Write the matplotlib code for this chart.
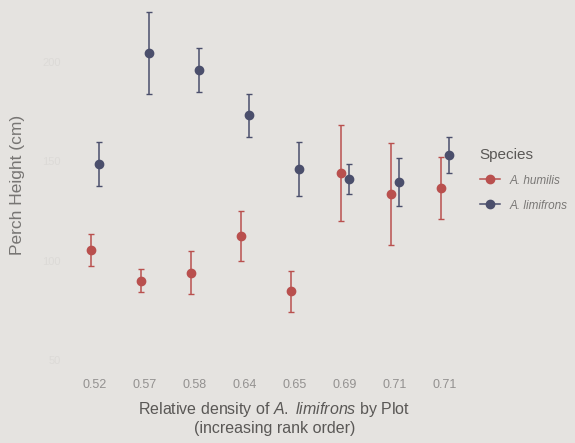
import matplotlib.pyplot as plt
from matplotlib.lines import Line2D
import numpy as np

plt.rcParams['font.family'] = ['Liberation Sans', 'DejaVu Sans']
plt.rcParams['mathtext.fontset'] = 'custom'
plt.rcParams['mathtext.it'] = 'Liberation Sans:italic'
plt.rcParams['mathtext.rm'] = 'Liberation Sans'

# data
plots = ['0.52', '0.57', '0.58', '0.64', '0.65', '0.69', '0.71', '0.71']
humilis_mean = [105.5, 90, 94, 112.5, 84.5, 144, 133.5, 136.5]
humilis_err = [8, 6, 11, 12.5, 10.5, 24, 25.5, 15.5]
limifrons_mean = [148.5, 204.5, 196, 173, 146, 141, 139.5, 153]
limifrons_err = [11, 20.5, 11, 11, 13.5, 7.5, 12, 9]
y_ticks = [50, 100, 150, 200]

bg = '#e5e3e0'
red = '#b9504e'
blue = '#4b4f6c'

fig = plt.figure(figsize=(5.75, 4.43), dpi=100, facecolor=bg)
ax = fig.add_axes([65/575, 1 - 375/443, 410/575, 373/443])
ax.set_facecolor(bg)

x = np.arange(len(plots))
dodge = 0.08
ax.errorbar(x - dodge, humilis_mean, yerr=humilis_err, fmt='o', color=red,
            ms=6, elinewidth=1.1, capsize=2.2, capthick=1)
ax.errorbar(x + dodge, limifrons_mean, yerr=limifrons_err, fmt='o', color=blue,
            ms=6, elinewidth=1.1, capsize=2.2, capthick=1)

ax.set_xlim(-0.6, len(plots) - 0.4)
ax.set_ylim(42.5, 230)
ax.set_xticks(x)
ax.set_xticklabels(plots, fontsize=9, color='#939190')
ax.set_yticks(y_ticks)
ax.set_yticklabels([str(t) for t in y_ticks], fontsize=8, color='#dcdad7')
ax.tick_params(length=0, pad=3)
for s in ax.spines.values():
    s.set_visible(False)

fig.text(0.477, 1 - 418/443, 'Relative density of $\\it{A.}$ $\\it{limifrons}$ by Plot\n(increasing rank order)',
         ha='center', va='center', fontsize=11.5, color='#5a5856', linespacing=1.1)
fig.text(18/575, 1 - 185/443, 'Perch Height (cm)', rotation=90, ha='center', va='center',
         fontsize=12.5, color='#777573')

handles = [Line2D([], [], color=red, marker='o', ms=6, lw=1.1),
           Line2D([], [], color=blue, marker='o', ms=6, lw=1.1)]
leg = fig.legend(handles, ['A. humilis', 'A. limifrons'], loc='upper left',
                 bbox_to_anchor=(469/575, 1 - 137/443), frameon=False, title='Species',
                 fontsize=8.5, title_fontsize=11, handlelength=1.7, labelspacing=1.1,
                 handletextpad=0.8, alignment='left')
leg.get_title().set_color('#5a5856')
for t in leg.get_texts():
    t.set_color('#7a7876')
    t.set_style('italic')

fig.savefig('out.png', dpi=100, facecolor=bg)
